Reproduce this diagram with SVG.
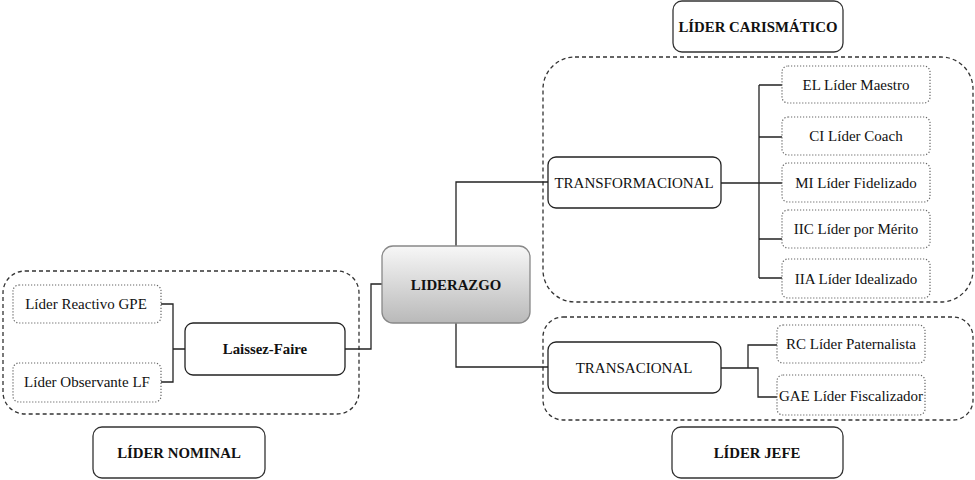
<svg xmlns="http://www.w3.org/2000/svg" width="975" height="480" viewBox="0 0 975 480">
<defs>
<linearGradient id="g" x1="0" y1="0" x2="0" y2="1">
<stop offset="0" stop-color="#f7f7f7"/>
<stop offset="1" stop-color="#b9b9b9"/>
</linearGradient>
<style>
.grp{fill:none;stroke:#333;stroke-width:1.3;stroke-dasharray:4 3}
.leaf{fill:#fff;stroke:#666;stroke-width:1.2;stroke-dasharray:1.2 1.8}
.box{fill:#fff;stroke:#222;stroke-width:1.3}
.lbl{fill:#fff;stroke:#333;stroke-width:1.3}
.c{fill:none;stroke:#222;stroke-width:1.3}
text{font-family:"Liberation Serif","Times New Roman",serif;fill:#111;text-anchor:middle;dominant-baseline:central}
.t{font-size:15px}
.b{font-size:14.8px;font-weight:bold}
</style>
</defs>
<rect width="975" height="480" fill="#fff"/>
<g id="groups">
<rect class="grp" x="3" y="271" width="356" height="143" rx="22"/>
<rect class="grp" x="543" y="57" width="430" height="245" rx="32"/>
<rect class="grp" x="543" y="317" width="430" height="103" rx="20"/>
</g>
<g id="connectors">
<path class="c" d="M161 304H173V382H161M173 349H185"/>
<path class="c" d="M345 349H371V284H382"/>
<path class="c" d="M456 246V182H548"/>
<path class="c" d="M456 323V367H548"/>
<path class="c" d="M721 183H759" stroke-width="2.6"/>
<path class="c" d="M759 85V278M759 85H782M759 137H782M759 183H782M759 239H782M759 278H782"/>
<path class="c" d="M721 368H758V397H777M748 368V345H777"/>
</g>
<g id="liderazgo">
<rect x="382" y="246" width="148" height="77" rx="11" fill="url(#g)" stroke="#888" stroke-width="1.3"/>
<text class="b" x="456" y="285">LIDERAZGO</text>
</g>
<g id="laissez-faire">
<rect class="box" x="185" y="323" width="160" height="52" rx="8"/>
<text class="b" x="265" y="349">Laissez-Faire</text>
</g>
<g id="reactivo">
<rect class="leaf" x="13" y="285" width="148" height="38" rx="6"/>
<text class="t" x="86" y="304">Líder Reactivo GPE</text>
</g>
<g id="observante">
<rect class="leaf" x="13" y="363" width="148" height="39" rx="6"/>
<text class="t" x="87" y="382">Líder Observante LF</text>
</g>
<g id="transformacional">
<rect class="box" x="548" y="157" width="173" height="51" rx="8"/>
<text class="t" x="634" y="183">TRANSFORMACIONAL</text>
</g>
<g id="maestro">
<rect class="leaf" x="782" y="66" width="148" height="37" rx="6"/>
<text class="t" x="856" y="85">EL Líder Maestro</text>
</g>
<g id="coach">
<rect class="leaf" x="782" y="117" width="148" height="38" rx="6"/>
<text class="t" x="856" y="136">CI Líder Coach</text>
</g>
<g id="fidelizado">
<rect class="leaf" x="782" y="163" width="148" height="39" rx="6"/>
<text class="t" x="856" y="183">MI Líder Fidelizado</text>
</g>
<g id="merito">
<rect class="leaf" x="782" y="210" width="148" height="38" rx="6"/>
<text class="t" x="856" y="229">IIC Líder por Mérito</text>
</g>
<g id="idealizado">
<rect class="leaf" x="782" y="259" width="148" height="39" rx="6"/>
<text class="t" x="856" y="279">IIA Líder Idealizado</text>
</g>
<g id="transacional">
<rect class="box" x="548" y="342" width="173" height="51" rx="8"/>
<text class="t" x="634" y="368">TRANSACIONAL</text>
</g>
<g id="paternalista">
<rect class="leaf" x="777" y="325" width="148" height="38" rx="6"/>
<text class="t" x="851" y="344">RC Líder Paternalista</text>
</g>
<g id="fiscalizador">
<rect class="leaf" x="777" y="375" width="148" height="40" rx="6"/>
<text class="t" x="851" y="396">GAE Líder Fiscalizador</text>
</g>
<g id="carismatico">
<rect class="lbl" x="673" y="1" width="170" height="51" rx="9"/>
<text class="b" x="758" y="27">LÍDER CARISMÁTICO</text>
</g>
<g id="jefe">
<rect class="lbl" x="672" y="427" width="171" height="51" rx="9"/>
<text class="b" x="757" y="453">LÍDER JEFE</text>
</g>
<g id="nominal">
<rect class="lbl" x="93" y="427" width="172" height="51" rx="9"/>
<text class="b" x="179" y="453">LÍDER NOMINAL</text>
</g>
</svg>
